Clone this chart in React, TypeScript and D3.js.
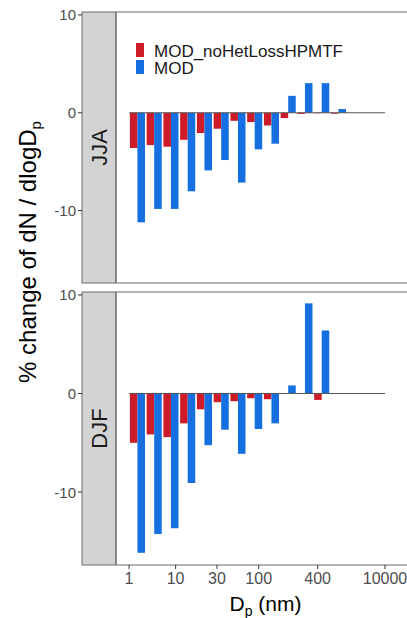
import React from "react";
import * as d3 from "d3";

// size bins (index along the x axis)
const bins = [0, 1, 2, 3, 4, 5, 6, 7, 8, 9, 10, 11, 12];

const seasons = ["JJA", "DJF"];
const seriesNames = ["MOD_noHetLossHPMTF", "MOD"];
const seriesColors = ["#CD1B27", "#156FE0"];

// % change of dN/dlogDp per bin
const jjaNoHet = [-3.6, -3.3, -3.47, -2.76, -2.07, -1.63, -0.82, -0.95, -1.3, -0.54, -0.12, -0.05, -0.1];
const jjaMod = [-11.2, -9.83, -9.83, -8.03, -5.89, -4.83, -7.14, -3.74, -3.16, 1.73, 3.03, 3.03, 0.38];
const djfNoHet = [-5.0, -4.15, -4.42, -3.03, -1.6, -0.88, -0.78, -0.48, -0.58, 0, 0, -0.65, 0];
const djfMod = [-16.16, -14.25, -13.67, -9.08, -5.24, -3.67, -6.12, -3.6, -3.03, 0.82, 9.15, 6.4, 0];

// x tick labels and where they sit, in bin units
const xTickLabels = ["1", "10", "30", "100", "400", "10000"];
const xTickPos = [-0.5, 2.28, 4.75, 7.24, 10.76, 14.78];
const yTicks = [-10, 0, 10];

const font = "'Liberation Sans', Arial, Helvetica, sans-serif";

const W = 407;
const H = 618;
const stripX0 = 82;
const panelX0 = 116;
const panelX1 = 415;
const panels = [
  { top: 12, bottom: 283 },
  { top: 292, bottom: 565 },
];

export default function App() {
  const x = d3.scaleLinear().domain([-1.28, 16.57]).range([panelX0, panelX1]);
  const band = d3.scaleBand().domain(seriesNames).range([0, x(0.45) - x(-0.45)]);
  const data = [
    [jjaNoHet, jjaMod],
    [djfNoHet, djfMod],
  ];

  return (
    <div style={{ position: "absolute", left: 0, top: 0 }}>
      <svg width={W} height={H} style={{ display: "block", background: "#fff", fontFamily: font }}>
        {panels.map((p, pi) => {
          const y = d3.scaleLinear().domain([-17.4, 10.3]).range([p.bottom, p.top]);
          return (
            <g key={pi}>
              <rect x={panelX0} y={p.top} width={panelX1 - panelX0} height={p.bottom - p.top} fill="#fff" />
              <rect x={stripX0} y={p.top} width={panelX0 - stripX0} height={p.bottom - p.top} fill="#D3D3D3" />
              {data[pi].map((vals, si) =>
                vals.map((v, i) => (
                  <rect
                    key={si + "-" + i}
                    x={x(bins[i] - 0.45) + band(seriesNames[si])}
                    y={y(Math.max(0, v))}
                    width={band.bandwidth()}
                    height={Math.abs(y(v) - y(0))}
                    fill={seriesColors[si]}
                  />
                ))
              )}
              <line
                x1={x(xTickPos[0])}
                x2={x(xTickPos[xTickPos.length - 1])}
                y1={y(0)}
                y2={y(0)}
                stroke="#555"
                strokeWidth={1.1}
              />
              <rect
                x={stripX0}
                y={p.top}
                width={panelX1 - stripX0}
                height={p.bottom - p.top}
                fill="none"
                stroke="#6b6b6b"
                strokeWidth={1}
              />
              <line x1={panelX0} x2={panelX0} y1={p.top} y2={p.bottom} stroke="#555" strokeWidth={1.3} />
              <text
                transform={`translate(${(stripX0 + panelX0) / 2},${(p.top + p.bottom) / 2}) rotate(-90)`}
                textAnchor="middle"
                dominantBaseline="central"
                fontSize={22}
                fill="#1a1a1a"
              >
                {seasons[pi]}
              </text>
              {yTicks.map((t) => (
                <g key={t}>
                  <line x1={stripX0 - 4} x2={stripX0} y1={y(t)} y2={y(t)} stroke="#333" />
                  <text x={stripX0 - 6} y={y(t)} textAnchor="end" dominantBaseline="central" fontSize={15} fill="#4d4d4d">
                    {t}
                  </text>
                </g>
              ))}
            </g>
          );
        })}

        {/* legend */}
        {seriesNames.map((s, i) => (
          <g key={s}>
            <rect x={136} y={43 + i * 17} width={8} height={14} fill={seriesColors[i]} />
            <text x={154} y={57 + i * 16.5} fontSize={17} fill="#1a1a1a">
              {s}
            </text>
          </g>
        ))}

        {/* x axis */}
        {xTickPos.map((t, i) => (
          <g key={i}>
            <line x1={x(t)} x2={x(t)} y1={panels[1].bottom} y2={panels[1].bottom + 4} stroke="#333" />
            <text x={x(t)} y={panels[1].bottom + 19} textAnchor="middle" fontSize={16} fill="#4d4d4d">
              {xTickLabels[i]}
            </text>
          </g>
        ))}
        <text x={(panelX0 + panelX1) / 2} y={611} textAnchor="middle" fontSize={21} fill="#000">
          D<tspan fontSize={14} dy={5}>p</tspan>
          <tspan dy={-5}> (nm)</tspan>
        </text>
        <text transform="translate(36,252) rotate(-90)" textAnchor="middle" fontSize={24} fill="#000">
          % change of dN / dlogD<tspan fontSize={15} dy={5}>p</tspan>
        </text>
      </svg>
    </div>
  );
}
